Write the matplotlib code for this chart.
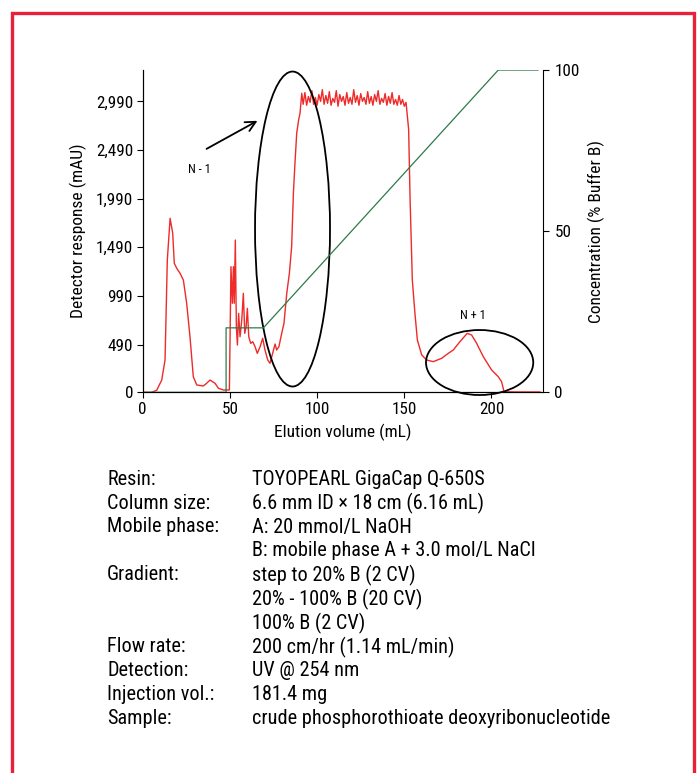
import matplotlib
matplotlib.use("Agg")
import matplotlib.pyplot as plt
from matplotlib.patches import Ellipse, Rectangle

plt.rcParams['font.family'] = ['Roboto Condensed', 'DejaVu Sans']

# --- detector trace (red) ---
trace_x = [0, 5, 8, 10.9, 12.8, 14.1, 15.7, 17.2, 18.1, 19.5, 21.4, 23.3, 25.2, 27.1, 29.0,
           31.0, 34.7, 36.5, 38.6, 40.0, 41.5, 43.4, 46.2, 49.0, 49.7,
           50.6, 51.4, 52.0, 52.5, 53.1, 53.7, 54.3, 55.0, 55.8, 56.8, 57.7, 58.5, 59.3,
           60.0, 60.8, 61.9, 63.1, 64.4, 65.7, 67.3, 68.8, 70.1, 71.7, 73.0, 74.5, 75.9,
           76.8, 78.1, 79.7, 81.0, 82.6, 84.1, 85.4, 86.4, 87.3, 88.3, 89.4, 90.2, 91.2,
           92, 93, 94, 95, 96, 97, 98, 99, 100, 101, 102, 103, 104, 105, 106, 107, 108,
           109, 110, 111, 112, 113, 114, 115, 116, 117, 118, 119, 120, 121, 122, 123, 124,
           125, 126, 127, 128, 129, 130, 131, 132, 133, 134, 135, 136, 137, 138, 139, 140,
           141, 142, 143, 144, 145, 146, 147, 148, 149, 150, 151,
           152.5, 153.3, 154.6, 156.1, 157.5, 160.0, 162.8, 166.6, 171.4, 175.2, 178.1,
           181.9, 186.1, 188.6, 191.5, 195.3, 200.1, 203.9, 205.8, 207.2, 215, 227.8]
trace_y = [0, 0, 20, 126, 333, 1360, 1788, 1634, 1326, 1274, 1223, 1154, 915, 571, 160,
           75, 65, 90, 126, 110, 92, 41, 24, 24, 24,
           1291, 915, 1291, 915, 1565, 674, 486, 812, 571, 743, 1017, 606, 674,
           863, 571, 503, 520, 469, 400, 469, 555, 435, 332, 298, 400, 496,
           435, 469, 606, 709, 1017, 1223, 1497, 2045, 2354, 2662, 2799, 2867, 3073,
           2960, 3080, 2950, 3040, 2980, 3100, 2960, 3030, 2950, 3060, 2990, 3110, 2960,
           3050, 2970, 3090, 2950, 3020, 2980, 3100, 2940, 3060, 2990, 3040, 2950, 3080,
           2970, 3030, 2960, 3110, 2980, 3050, 2950, 3070, 2990, 3030, 2960, 3090, 2970,
           3040, 2950, 3060, 2990, 3100, 2960, 3020, 2980, 3070, 2950, 3040, 2970, 3080,
           2960, 3010, 2950, 3050, 2960, 3010, 2940, 2980,
           2700, 2000, 1154, 812, 537, 383, 332, 315, 349, 400, 435,
           520, 606, 589, 503, 366, 229, 160, 109, 6, 4, 4]

# --- gradient (% buffer B, green) ---
grad_x = [0, 47.8, 47.8, 69.2, 203.9, 226.7]
grad_y = [0, 0, 20, 20, 100, 100]

left_ticks = [0, 490, 990, 1490, 1990, 2490, 2990]
left_labels = ["0", "490", "990", "1,490", "1,990", "2,490", "2,990"]
x_ticks = [0, 50, 100, 150, 200]
right_ticks = [0, 50, 100]

conditions = [
    ("Resin:", "TOYOPEARL GigaCap Q-650S"),
    ("Column size:", "6.6 mm ID \u00d7 18 cm (6.16 mL)"),
    ("Mobile phase:", "A: 20 mmol/L NaOH"),
    ("", "B: mobile phase A + 3.0 mol/L NaCl"),
    ("Gradient:", "step to 20% B (2 CV)"),
    ("", "20% - 100% B (20 CV)"),
    ("", "100% B (2 CV)"),
    ("Flow rate:", "200 cm/hr (1.14 mL/min)"),
    ("Detection:", "UV @ 254 nm"),
    ("Injection vol.:", "181.4 mg"),
    ("Sample:", "crude phosphorothioate deoxyribonucleotide"),
]

fig = plt.figure(figsize=(7, 7.73), dpi=100)
fig.patches.append(Rectangle((0.0171, -0.05), 0.9743, 1.0338, transform=fig.transFigure,
                             fill=False, edgecolor="#e8203a", linewidth=2.4))

ax = fig.add_axes([0.2039, 0.4925, 0.5722, 0.4169])
ax.plot(trace_x, trace_y, color="#ee2a2a", lw=1.0, zorder=3)
ax.set_xlim(0, 229.7)
ax.set_ylim(0, 3312)
ax.set_xticks(x_ticks)
ax.set_yticks(left_ticks)
ax.set_yticklabels(left_labels)
ax.tick_params(direction="out", length=4, width=0.8, labelsize=12.3, pad=3)
ax.spines["top"].set_visible(False)
ax.spines["right"].set_visible(False)
ax.set_xlabel("Elution volume (mL)", fontsize=12.5, labelpad=5)
ax.set_ylabel("Detector response (mAU)", fontsize=12.5)
ax.yaxis.set_label_coords(-0.139, 0.5)

ax2 = ax.twinx()
ax2.plot(grad_x, grad_y, color="#2e7a4a", lw=0.9, zorder=2)
ax2.set_ylim(0, 100)
ax2.set_yticks(right_ticks)
ax2.tick_params(direction="out", length=4, width=0.8, labelsize=12.3, pad=4)
ax2.spines["top"].set_visible(False)
ax2.set_ylabel("Concentration (% Buffer B)", fontsize=12.5)
ax2.yaxis.set_label_coords(1.112, 0.5)

# annotations
ax.add_patch(Ellipse((85.9, 1678), 43, 3237, fill=False, edgecolor="black", lw=1.3,
                     clip_on=False, zorder=4))
ax.add_patch(Ellipse((193.2, 306), 61.5, 668, fill=False, edgecolor="black", lw=1.3,
                     clip_on=False, zorder=4))
ax.annotate("", xy=(67.2, 2804), xytext=(35.2, 2488),
            arrowprops=dict(arrowstyle="->", color="black", lw=1.3, mutation_scale=18))
ax.text(32.5, 2292, "N - 1", fontsize=9, ha="center", va="center")
ax.text(189.6, 794, "N + 1", fontsize=9, ha="center", va="center")

# conditions table
y0 = 1 - 479 / 773
step = 24 / 773
for i, (lab, val) in enumerate(conditions):
    y = y0 - i * step
    fig.text(0.153, y, lab, fontsize=14.6, va="center", ha="left")
    fig.text(0.36, y, val, fontsize=14.6, va="center", ha="left")

fig.savefig("out.png", dpi=100)
